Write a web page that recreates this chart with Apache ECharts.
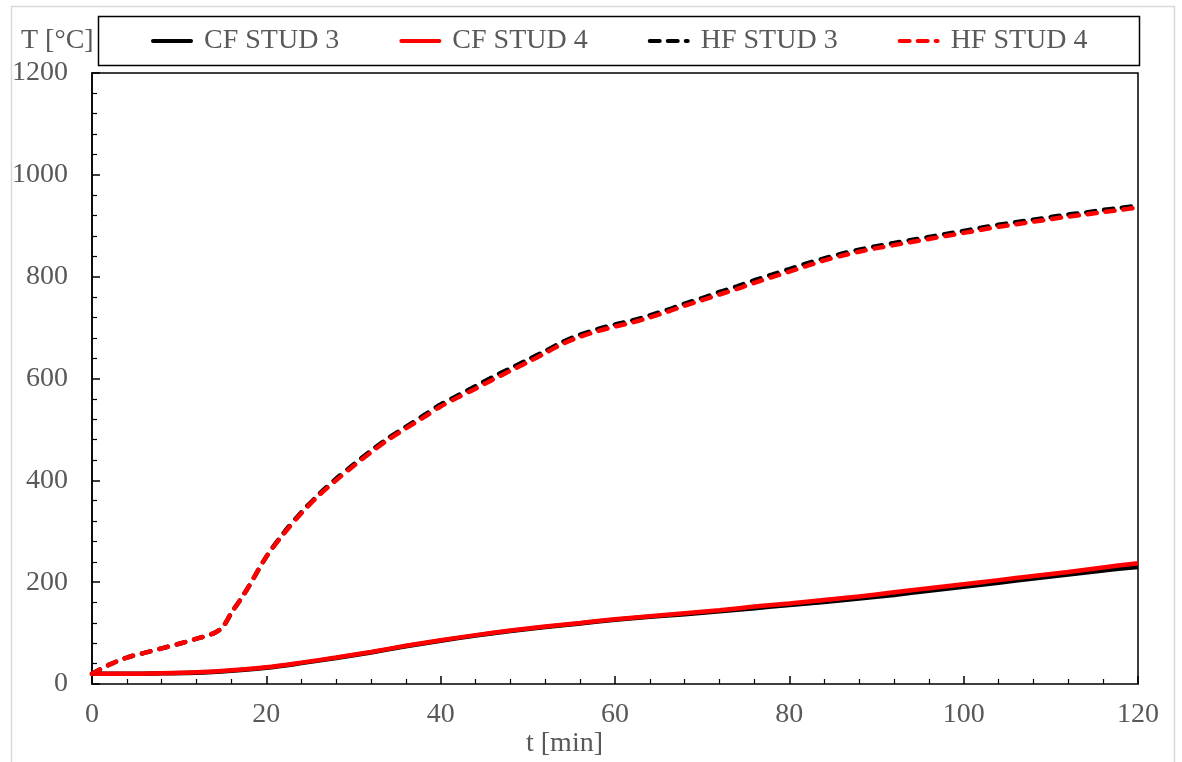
<!DOCTYPE html>
<html>
<head>
<meta charset="utf-8">
<script src="https://cdn.jsdelivr.net/npm/echarts@6/dist/echarts.min.js"></script>
<style>html,body{margin:0;padding:0;background:#fff;}#main{width:1182px;height:762px;}</style>
</head>
<body>
<div id="main"></div>
<script>
const seriesNames = ['CF STUD 3', 'CF STUD 4', 'HF STUD 3', 'HF STUD 4'];
const xTicks = [0, 20, 40, 60, 80, 100, 120];
const yTicks = [0, 200, 400, 600, 800, 1000, 1200];

// time [min]
const tCF = [0, 4, 8, 12, 16, 20, 24, 28, 32, 36, 40, 44, 48, 52, 56, 60, 64, 68, 72, 76, 80, 84, 88, 92, 96, 100, 104, 108, 112, 116, 120];
const cf3 = [20, 20, 21, 22, 26, 32, 41, 51, 62, 74, 85, 95, 104, 112, 119, 126, 132, 137, 143, 149, 155, 161, 168, 175, 183, 191, 199, 207, 215, 223, 230];
const cf4 = [20, 20, 21, 23, 27, 33, 42, 52, 63, 75, 86, 96, 105, 113, 120, 127, 133, 139, 145, 152, 158, 165, 172, 180, 188, 196, 204, 212, 220, 229, 237];

const tHF = [0, 2, 4, 6, 8, 10, 12, 14, 15, 16, 17, 18, 20, 22, 24, 26, 28, 30, 32, 34, 36, 38, 40, 42, 44, 46, 48, 50, 52, 54, 56, 58, 60, 62, 64, 66, 68, 70, 72, 74, 76, 78, 80, 82, 84, 86, 88, 90, 92, 94, 96, 98, 100, 102, 104, 106, 108, 110, 112, 114, 116, 118, 120];
const hf3 = [20, 38, 52, 61, 70, 79, 89, 100, 112, 140, 165, 192, 250, 297, 337, 372, 403, 431, 458, 483, 505, 527, 549, 567, 585, 603, 620, 637, 654, 672, 686, 697, 706, 714, 724, 735, 747, 758, 770, 781, 793, 804, 815, 826, 836, 845, 853, 860, 866, 872, 878, 884, 890, 896, 902, 907, 912, 917, 922, 926, 931, 935, 940];
const hf4 = [20, 38, 52, 61, 70, 79, 89, 100, 112, 140, 165, 192, 250, 295, 335, 370, 400, 428, 455, 480, 502, 523, 545, 563, 580, 598, 615, 632, 650, 668, 682, 693, 702, 710, 720, 731, 743, 754, 765, 776, 788, 799, 810, 821, 832, 841, 849, 856, 862, 868, 874, 880, 886, 892, 898, 903, 908, 913, 918, 922, 927, 931, 936];

const pair = (xs, ys) => xs.map((x, i) => [x, ys[i]]);
const FONT = 'Liberation Serif';
const FS = 28;
const TXT = '#595959';
const solidIcon = 'path://M2,0 H40 A2,2 0 0 1 40,4 H2 A2,2 0 0 1 2,0 Z';
const dashIcon = 'path://M2,0 H12 A2,2 0 0 1 12,4 H2 A2,2 0 0 1 2,0 Z M20,0 H30 A2,2 0 0 1 30,4 H20 A2,2 0 0 1 20,0 Z M38,0 H40 A2,2 0 0 1 40,4 H38 A2,2 0 0 1 38,0 Z';

const chart = echarts.init(document.getElementById('main'));
const dash = [9, 9];
chart.setOption({
  animation: false,
  backgroundColor: '#fff',
  grid: { left: 92, right: 44, top: 73, bottom: 78, show: true, borderColor: '#000', borderWidth: 1.5, backgroundColor: 'transparent' },
  legend: {
    top: 22, left: 146,
    itemWidth: 42, itemHeight: 4.5, itemGap: 60,
    textStyle: { fontFamily: FONT, fontSize: FS, color: TXT, padding: [0, 0, 0, 6] },
    data: [
      { name: seriesNames[0], icon: solidIcon },
      { name: seriesNames[1], icon: solidIcon },
      { name: seriesNames[2], icon: dashIcon },
      { name: seriesNames[3], icon: dashIcon }
    ]
  },
  xAxis: {
    type: 'value', min: 0, max: 120, interval: 20,
    axisLine: { show: true, onZero: false, lineStyle: { color: '#404040', width: 1.5 } },
    axisTick: { show: true, inside: true, length: 8, lineStyle: { color: '#000', width: 1.5 } },
    minorTick: { show: true, splitNumber: 5, length: 5, lineStyle: { color: '#000', width: 1.2 } },
    splitLine: { show: false },
    axisLabel: { fontFamily: FONT, fontSize: FS, color: TXT, margin: 17, formatter: v => String(v) }
  },
  yAxis: {
    type: 'value', min: 0, max: 1200, interval: 200,
    axisLine: { show: true, onZero: false, lineStyle: { color: '#000', width: 1.5 } },
    axisTick: { show: true, inside: true, length: 8, lineStyle: { color: '#000', width: 1.5 } },
    minorTick: { show: true, splitNumber: 5, length: 5, lineStyle: { color: '#000', width: 1.2 } },
    splitLine: { show: false },
    axisLabel: { fontFamily: FONT, fontSize: FS, color: TXT, margin: 24, formatter: v => String(v) }
  },
  graphic: [
    { type: 'rect', left: 9, top: 4, shape: { width: 1163, height: 800 }, style: { fill: 'none', stroke: '#d9d9d9', lineWidth: 1.5 }, z: -10 },
    { type: 'rect', left: 96, top: 14, shape: { width: 1041, height: 49 }, style: { fill: 'none', stroke: '#000', lineWidth: 1.5 }, z: 10 },
    { type: 'text', left: 21, top: 27, style: { text: 'T [°C]', font: FS + 'px "Liberation Serif"', fill: TXT }, z: 10 },
    { type: 'text', left: 526, top: 730, style: { text: 't [min]', font: FS + 'px "Liberation Serif"', fill: TXT }, z: 10 }
  ],
  series: [
    { name: seriesNames[0], type: 'line', data: pair(tCF, cf3), symbol: 'none', smooth: 0.3, color: '#000', lineStyle: { color: '#000', width: 4.5 } },
    { name: seriesNames[1], type: 'line', data: pair(tCF, cf4), symbol: 'none', smooth: 0.3, color: '#ff0000', lineStyle: { color: '#ff0000', width: 4.5 } },
    { name: seriesNames[2], type: 'line', data: pair(tHF, hf3), symbol: 'none', smooth: 0.3, color: '#000', lineStyle: { color: '#000', width: 4.5, type: dash, cap: 'round' } },
    { name: seriesNames[3], type: 'line', data: pair(tHF, hf4), symbol: 'none', smooth: 0.3, color: '#ff0000', lineStyle: { color: '#ff0000', width: 4.5, type: dash, cap: 'round' } }
  ]
});
</script>
</body>
</html>
